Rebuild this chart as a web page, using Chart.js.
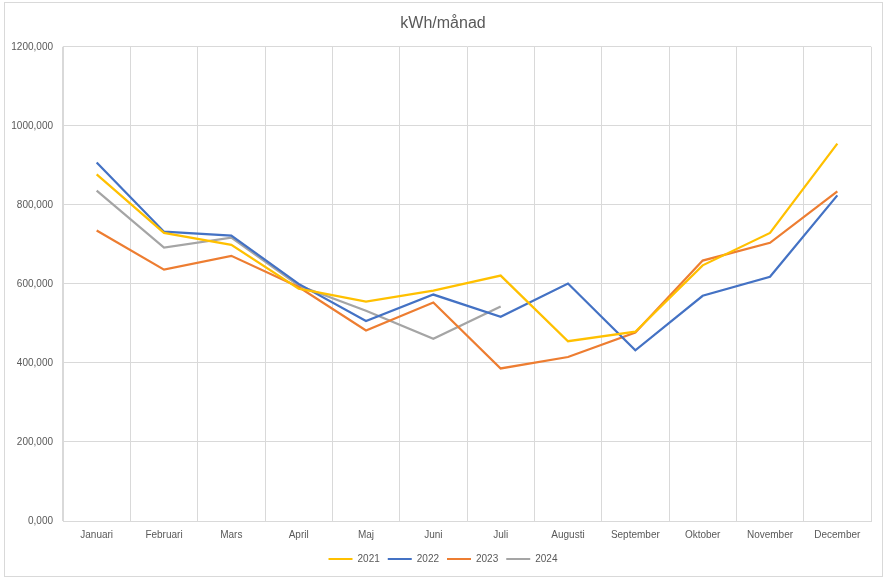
<!DOCTYPE html>
<html>
<head>
<meta charset="utf-8">
<script src="https://cdn.jsdelivr.net/npm/chart.js@4/dist/chart.umd.min.js"></script>
<style>
  body { margin: 0; background: #fff; }
  #wrap { position: relative; width: 886px; height: 580px; }
  #frame { position: absolute; left: 4px; top: 2px; width: 877px; height: 573px;
           border: 1px solid #d9d9d9; pointer-events: none; }
</style>
</head>
<body>
<div id="wrap">
  <canvas id="energyChart" width="886" height="580"></canvas>
  <div id="frame"></div>
</div>
<script>
// kWh per month
const months = ['Januari', 'Februari', 'Mars', 'April', 'Maj', 'Juni', 'Juli',
                'Augusti', 'September', 'Oktober', 'November', 'December'];
const kwh2021 = [877000, 729000, 699000, 588000, 555000, 583000, 621000, 455000, 479000, 647000, 729000, 955000];
const kwh2022 = [907000, 732000, 722000, 600000, 506000, 573000, 517000, 601000, 432000, 570000, 618000, 824000];
const kwh2023 = [735000, 636000, 671000, 592000, 482000, 553000, 386000, 415000, 477000, 659000, 704000, 834000];
const kwh2024 = [836000, 692000, 717000, 596000, 532000, 461000, 543000, null, null, null, null, null];
const yTicks = [0, 200000, 400000, 600000, 800000, 1000000, 1200000];

const textColor = '#595959';
const gridColor = '#d9d9d9';
const font = 'Liberation Sans';

function series(label, data, color) {
  return {
    label: label,
    data: data,
    borderColor: color,
    backgroundColor: color,
    borderWidth: 2.25,
    pointRadius: 0,
    tension: 0,
    spanGaps: false
  };
}

const ctx = document.getElementById('energyChart').getContext('2d');
new Chart(ctx, {
  type: 'line',
  data: {
    labels: months,
    datasets: [
      series('2021', kwh2021, '#FFC000'),
      series('2022', kwh2022, '#4472C4'),
      series('2023', kwh2023, '#ED7D31'),
      series('2024', kwh2024, '#A5A5A5')
    ]
  },
  options: {
    responsive: false,
    animation: false,
    layout: { padding: { left: 0, right: 0, top: 4, bottom: 6 } },
    plugins: {
      title: {
        display: true,
        text: 'kWh/månad',
        color: textColor,
        font: { family: font, size: 16, weight: 'normal' },
        padding: { top: 10, bottom: 13.6 }
      },
      legend: {
        position: 'bottom',
        labels: {
          color: textColor,
          font: { family: font, size: 10 },
          boxWidth: 24,
          boxHeight: 2,
          padding: 8,
          // thin line swatches, no stroke round the box
          generateLabels: chart => Chart.defaults.plugins.legend.labels.generateLabels(chart)
            .map(item => Object.assign(item, { lineWidth: 0 }))
        }
      },
      tooltip: { enabled: false }
    },
    scales: {
      x: {
        offset: true,
        grid: { offset: true, color: gridColor, drawTicks: false },
        border: { color: gridColor },
        afterFit: scale => { scale.height = scale.height - 3; },
        ticks: { color: textColor, font: { family: font, size: 10 }, padding: 8, maxRotation: 0 }
      },
      y: {
        min: 0,
        max: 1200000,
        afterBuildTicks: scale => { scale.ticks = yTicks.map(v => ({ value: v })); },
        afterFit: scale => { scale.width = 63; },
        grid: { color: gridColor, drawTicks: false },
        border: { color: gridColor },
        ticks: {
          color: textColor,
          font: { family: font, size: 10 },
          padding: 10,
          callback: v => (v / 1000) + ',000'
        }
      },
      // empty right-hand spacer so the legend centres on the whole chart
      spacer: {
        type: 'linear',
        position: 'right',
        afterFit: scale => { scale.width = 15; },
        grid: { display: false, drawTicks: false },
        border: { display: false },
        ticks: { display: false }
      }
    }
  }
});
</script>
</body>
</html>
